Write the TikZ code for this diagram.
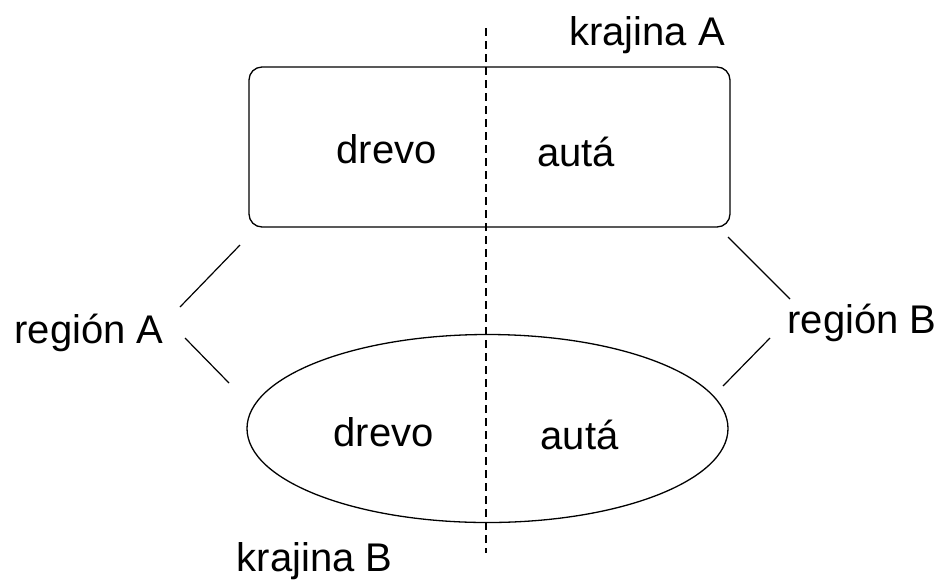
\documentclass[tikz,border=0pt]{standalone}
\usepackage{fontspec}
\setmainfont{Liberation Sans}
\usetikzlibrary{shapes.geometric}
\begin{document}
\begin{tikzpicture}[x=1pt,y=-1pt,
  lbl/.style={inner sep=0pt,anchor=base,font=\fontsize{40}{48}\selectfont},
  shp/.style={draw,line width=1.3pt,inner sep=0pt},
  conn/.style={line width=1.2pt},
  divider/.style={line width=1.3pt,dash pattern=on 8pt off 5pt}]
\useasboundingbox[fill=white] (0,0) rectangle (941,579);
\node[shp,rounded corners=13pt,minimum width=481pt,minimum height=160pt] (boxA) at (489.5,147) {};
\node[shp,ellipse,minimum width=481pt,minimum height=188pt] (ellB) at (487.5,428.5) {};
\coordinate (top) at (486,28);
\coordinate (bot) at (486,553);
\draw[divider] (top) -- (bot);
\node[lbl] (d1) at (386.5,163) {drevo};
\node[lbl] (a1) at (576,166) {autá};
\node[lbl] (kA) at (647,45) {krajina A};
\node[lbl] (d2) at (383.5,446.5) {drevo};
\node[lbl] (a2) at (579.5,449) {autá};
\node[lbl] (kB) at (314.5,571.5) {krajina B};
\node[lbl] (rA) at (89,343) {región A};
\node[lbl] (rB) at (862,333) {región B};
\coordinate (la1) at (240,245);
\coordinate (la2) at (180,307);
\coordinate (la3) at (185,338);
\coordinate (la4) at (229,383);
\coordinate (lb1) at (728,237);
\coordinate (lb2) at (790,299);
\coordinate (lb3) at (770,338);
\coordinate (lb4) at (723,386);
\draw[conn] (la1) -- (la2);
\draw[conn] (la3) -- (la4);
\draw[conn] (lb1) -- (lb2);
\draw[conn] (lb3) -- (lb4);
\end{tikzpicture}
\end{document}
